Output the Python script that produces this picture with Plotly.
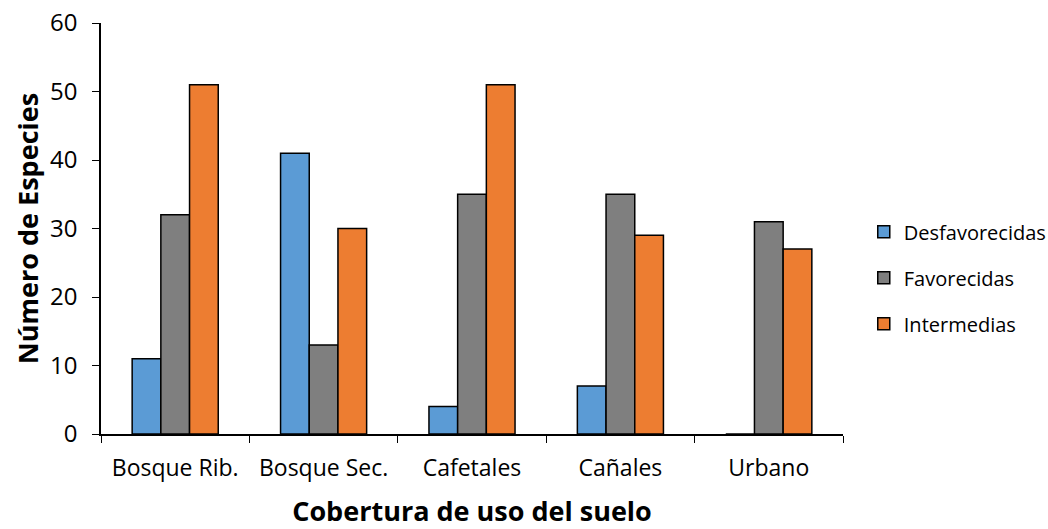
import plotly.graph_objects as go

# Land-cover categories and species counts per response group
categorias = ["Bosque Rib.", "Bosque Sec.", "Cafetales", "Cañales", "Urbano"]
desfavorecidas = [11, 41, 4, 7, 0]
favorecidas = [32, 13, 35, 35, 31]
intermedias = [51, 30, 51, 29, 27]

series = [
    ("Desfavorecidas", desfavorecidas, "#5B9BD5"),
    ("Favorecidas", favorecidas, "#7F7F7F"),
    ("Intermedias", intermedias, "#ED7D31"),
]

fig = go.Figure()
for nombre, valores, color in series:
    fig.add_trace(go.Bar(
        x=categorias, y=valores, name=nombre, legendgroup=nombre,
        marker=dict(color=color, line=dict(color="black", width=1.5)),
    ))

font_family = "'Open Sans', sans-serif"
fig.update_layout(
    width=1048, height=529,
    margin=dict(l=101, r=205, t=23, b=95, autoexpand=False),
    paper_bgcolor="white", plot_bgcolor="white",
    barmode="group", bargap=0.42, bargroupgap=0,
    font=dict(family=font_family, size=20, color="black"),
    legend=dict(
        x=1.028, y=0.38, xanchor="left", yanchor="middle",
        font=dict(size=20), tracegroupgap=17,
        itemwidth=30, borderwidth=0,
    ),
    xaxis=dict(
        showline=True, linecolor="black", linewidth=1.5,
        ticks="outside", tickson="boundaries", ticklen=7, tickcolor="black",
        tickfont=dict(size=23), ticklabelstandoff=13,
        title=dict(text="<b>Cobertura de uso del suelo</b>", font=dict(size=27), standoff=32),
        automargin=False,
    ),
    yaxis=dict(
        range=[0, 60], dtick=10, showgrid=False, zeroline=False,
        showline=True, linecolor="black", linewidth=1.5,
        ticks="outside", ticklen=7, tickcolor="black",
        tickfont=dict(size=24), ticklabelstandoff=10,
        title=dict(text="<b>Número de Especies</b>", font=dict(size=27), standoff=4),
        automargin=False,
    ),
)

fig.write_html("out.html")
